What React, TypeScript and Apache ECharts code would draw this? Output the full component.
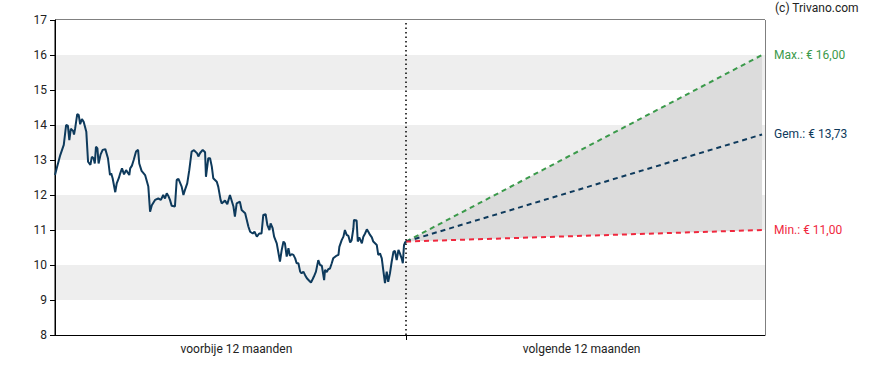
import React, { useEffect, useRef } from "react";
import * as echarts from "echarts";

// Past 12 months: time in months (0..12) and closing price (EUR)
const pastMonths = [
  0, 0.07, 0.18, 0.3, 0.38, 0.44, 0.49, 0.54, 0.62, 0.65, 0.69, 0.76, 0.81, 0.86, 0.92, 0.98,
  1.07, 1.13, 1.21, 1.26, 1.32, 1.36, 1.4, 1.45, 1.49, 1.56, 1.63, 1.72, 1.81, 1.88, 1.92, 1.97,
  2.06, 2.11, 2.18, 2.23, 2.29, 2.36, 2.43, 2.54, 2.57, 2.63, 2.69, 2.77, 2.84, 2.88, 2.96,
  3.08, 3.19, 3.25, 3.31, 3.42, 3.53, 3.62, 3.7, 3.76, 3.82, 3.87, 3.93, 3.99,
  4.1, 4.16, 4.22, 4.33, 4.39, 4.44, 4.52, 4.59, 4.67, 4.75, 4.86, 4.9, 4.96,
  5.05, 5.13, 5.16, 5.24, 5.3, 5.36, 5.41, 5.53, 5.58, 5.66, 5.7, 5.81, 5.89, 5.98,
  6.1, 6.15, 6.21, 6.32, 6.38, 6.5, 6.61, 6.67, 6.76, 6.82, 6.9, 6.98,
  7.06, 7.12, 7.2, 7.26, 7.33, 7.37, 7.44, 7.49, 7.58, 7.69, 7.75, 7.81, 7.86, 7.92, 7.98,
  8.03, 8.09, 8.15, 8.21, 8.26, 8.32, 8.38, 8.43, 8.49, 8.55, 8.61, 8.69, 8.75, 8.81, 8.85, 8.92,
  9.0, 9.06, 9.12, 9.2, 9.23, 9.29, 9.34, 9.4, 9.46, 9.51, 9.61, 9.69, 9.72, 9.8, 9.86, 9.91, 9.97,
  10.03, 10.09, 10.14, 10.2, 10.22, 10.31, 10.35, 10.4, 10.49, 10.54, 10.6, 10.66, 10.71, 10.77, 10.83, 10.88, 10.94,
  11.0, 11.05, 11.11, 11.17, 11.22, 11.28, 11.34, 11.39, 11.45, 11.51, 11.57, 11.62, 11.68, 11.74, 11.79, 11.85, 11.89, 11.93, 11.97, 12.0,
];
const pastPrices = [
  12.57, 12.8, 13.14, 13.43, 14.0, 13.98, 13.57, 13.89, 13.83, 13.73, 13.91, 14.31, 14.29, 14.02, 14.17, 14.09,
  13.81, 12.95, 12.86, 13.09, 13.05, 12.9, 13.38, 13.33, 12.9, 13.16, 13.29, 13.31, 13.05, 12.57, 12.62, 12.48,
  12.08, 12.33, 12.48, 12.62, 12.76, 12.59, 12.71, 12.57, 12.76, 12.84, 13.0, 13.24, 13.29, 12.9, 12.69,
  12.57, 12.24, 11.52, 11.71, 11.86, 11.9, 11.86, 12.0, 11.9, 12.05, 11.98, 11.86, 11.69,
  11.67, 12.43, 12.46, 12.24, 12.0, 12.14, 12.33, 12.71, 13.24, 13.28, 13.19, 13.1, 13.2,
  13.29, 13.22, 12.52, 13.05, 13.05, 12.81, 12.48, 12.38, 12.24, 11.86, 11.76, 11.84, 11.74, 12.0,
  11.67, 11.38, 11.76, 11.81, 11.57, 11.48, 11.1, 10.95, 10.9, 10.95, 10.81, 10.9,
  10.9, 11.43, 11.45, 11.14, 11.0, 11.19, 11.05, 10.81, 10.62, 10.1, 10.43, 10.67, 10.62, 10.24, 10.48,
  10.26, 10.31, 10.29, 10.19, 10.05, 10.05, 9.81, 9.76, 9.81, 9.71, 9.62, 9.55, 9.5, 9.6, 9.67, 9.81,
  10.14, 10.0, 9.98, 9.57, 9.86, 9.8, 9.88, 9.9, 10.05, 10.19, 10.26, 10.29, 10.52, 10.71, 10.81, 11.0, 10.86,
  10.83, 10.64, 10.71, 11.05, 11.29, 11.27, 10.67, 10.79, 10.62, 10.81, 10.9, 11.02, 10.95, 10.86, 10.79, 10.67, 10.62,
  10.57, 10.29, 10.33, 10.19, 9.86, 9.48, 9.81, 9.52, 9.76, 10.1, 10.38, 10.4, 10.14, 10.43, 10.33, 10.19, 10.05, 10.57, 10.65, 10.67,
];

// Analyst targets for the next 12 months
const targetNames = ["Max.", "Gem.", "Min."];
const targetValues = [16.0, 13.73, 11.0];
const targetColors = ["#3b9a4b", "#0e3a5c", "#f0283e"];

const periodLabels = ["voorbije 12 maanden", "volgende 12 maanden"];
const periodLabelAt = [6.2, 18];
const nowMonth = 12;
const horizonMonth = 24.17;
const axisMaxMonth = 24.27;

const yTicks = [8, 9, 10, 11, 12, 13, 14, 15, 16, 17];

const fmt = (v: number) => v.toFixed(2).replace(".", ",");

export default function App() {
  const ref = useRef<HTMLDivElement>(null);
  useEffect(() => {
    if (!ref.current) return;
    const chart = echarts.init(ref.current, undefined, { renderer: "svg" });
    const current = pastPrices[pastPrices.length - 1];
    const font = "Roboto, 'Noto Sans', sans-serif";
    const maxT = targetValues[0];
    const minT = targetValues[2];

    const series: any[] = [
      {
        type: "custom",
        name: "band",
        silent: true,
        z: 1,
        data: [[nowMonth, current, horizonMonth, minT, maxT]],
        encode: { x: [0, 2], y: [1, 3, 4] },
        renderItem: (_params: any, api: any) => {
          const p0 = api.coord([api.value(0), api.value(1)]);
          const p1 = api.coord([api.value(2), api.value(3)]);
          const p2 = api.coord([api.value(2), api.value(4)]);
          return {
            type: "polygon",
            shape: { points: [p0, p1, p2] },
            style: { fill: "#dcdcdc" },
          };
        },
      },
      ...targetNames.map((n, i) => ({
        type: "line",
        name: n,
        data: [[nowMonth, current], [horizonMonth, targetValues[i]]],
        showSymbol: false,
        silent: true,
        lineStyle: { color: targetColors[i], width: 2, type: [5, 4] },
        endLabel: {
          show: true,
          distance: 12,
          formatter: () => `${n}: € ${fmt(targetValues[i])}`,
          color: targetColors[i],
          fontSize: 12,
          fontFamily: font,
        },
        z: 3,
      })),
      {
        type: "line",
        name: "koers",
        data: pastMonths.map((m, i) => [m, pastPrices[i]]),
        showSymbol: false,
        silent: true,
        lineStyle: { color: "#0e3a5c", width: 2 },
        z: 4,
        markLine: {
          silent: true,
          symbol: "none",
          label: { show: false },
          lineStyle: { color: "#000", width: 1.5, type: [1.5, 3] },
          data: [{ xAxis: nowMonth }],
        },
      },
    ];

    chart.setOption({
      animation: false,
      title: {
        text: "(c) Trivano.com",
        left: 775,
        top: 2,
        padding: 0,
        textStyle: { fontSize: 12, fontWeight: "normal", color: "#222", fontFamily: font },
      },
      grid: {
        left: 55,
        right: 123,
        top: 20,
        bottom: 35,
        show: true,
        borderColor: "#000",
        borderWidth: 1,
        backgroundColor: "transparent",
      },
      xAxis: {
        type: "value",
        min: 0,
        max: axisMaxMonth,
        splitLine: { show: false },
        axisLine: { show: true, lineStyle: { color: "#000", width: 1 } },
        axisTick: { show: true, customValues: [nowMonth], length: 5, lineStyle: { color: "#000" } },
        axisLabel: {
          customValues: periodLabelAt,
          formatter: (v: number) => (v < nowMonth ? periodLabels[0] : periodLabels[1]),
          color: "#222",
          fontSize: 12,
          fontFamily: font,
          margin: 8,
        },
      },
      yAxis: {
        type: "value",
        min: yTicks[0],
        max: yTicks[yTicks.length - 1],
        interval: 1,
        splitLine: { show: false },
        splitArea: { show: true, areaStyle: { color: ["#ffffff", "#eeeeee"] } },
        axisLine: { show: true, lineStyle: { color: "#000", width: 1 } },
        axisTick: { show: true, length: 5, lineStyle: { color: "#000" } },
        axisLabel: { color: "#222", fontSize: 12, fontFamily: font, margin: 8 },
      },
      series,
    });
    return () => chart.dispose();
  }, []);
  return <div ref={ref} style={{ width: 888, height: 370, position: "absolute", left: 0, top: 0 }} />;
}
